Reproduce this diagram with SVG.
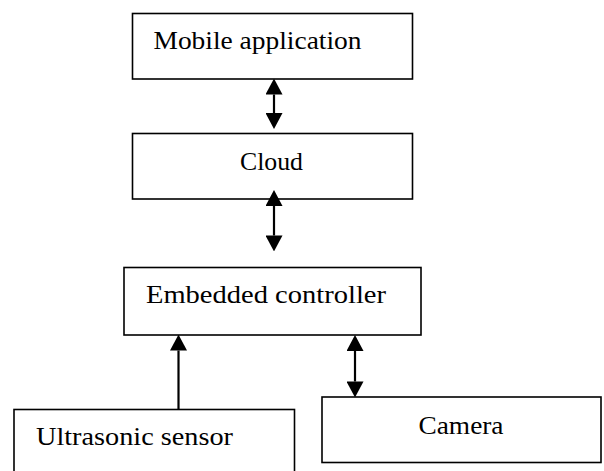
<svg xmlns="http://www.w3.org/2000/svg" width="604" height="471" viewBox="0 0 604 471">
  <style>
    .box { fill: #ffffff; stroke: #000000; stroke-width: 1.6; }
    .label { font-family: "Liberation Serif", "Times New Roman", serif; font-size: 26px; fill: #000000; }
    .link { stroke: #000000; stroke-width: 2.2; fill: none; }
  </style>
  <defs>
    <!-- solid triangular head; the line ends at the head's base -->
    <marker id="head" markerUnits="userSpaceOnUse" markerWidth="16" markerHeight="17" viewBox="0 0 15 16" refX="0" refY="8" orient="auto-start-reverse">
      <path d="M0,0 L15,8 L0,16 Z" fill="#000000"/>
    </marker>
  </defs>
  <rect width="604" height="471" fill="#ffffff"/>

  <g id="mobile-application">
    <rect class="box" x="132.5" y="13.5" width="280" height="65.5"/>
    <text class="label" x="153.5" y="49" textLength="208" lengthAdjust="spacingAndGlyphs">Mobile application</text>
  </g>

  <g id="cloud">
    <rect class="box" x="132.5" y="133.5" width="280" height="65.5"/>
    <text class="label" x="240" y="169.5" textLength="63" lengthAdjust="spacingAndGlyphs">Cloud</text>
  </g>

  <g id="embedded-controller">
    <rect class="box" x="124" y="267.5" width="297" height="67.5"/>
    <text class="label" x="146" y="302.5" textLength="240" lengthAdjust="spacingAndGlyphs">Embedded controller</text>
  </g>

  <g id="ultrasonic-sensor">
    <rect class="box" x="14" y="409.5" width="280.5" height="80"/>
    <text class="label" x="36" y="445" textLength="197" lengthAdjust="spacingAndGlyphs">Ultrasonic sensor</text>
  </g>

  <g id="camera">
    <rect class="box" x="322" y="397" width="279" height="65.5"/>
    <text class="label" x="418.5" y="434" textLength="85" lengthAdjust="spacingAndGlyphs">Camera</text>
  </g>

  <g id="connectors">
    <line class="link" x1="274" y1="94.5" x2="274" y2="113" marker-start="url(#head)" marker-end="url(#head)"/>
    <line class="link" x1="274" y1="206" x2="274" y2="235.5" marker-start="url(#head)" marker-end="url(#head)"/>
    <line class="link" x1="355" y1="351" x2="355" y2="381.5" marker-start="url(#head)" marker-end="url(#head)"/>
    <line class="link" x1="178.5" y1="350.5" x2="178.5" y2="409.5" marker-start="url(#head)"/>
  </g>
</svg>
